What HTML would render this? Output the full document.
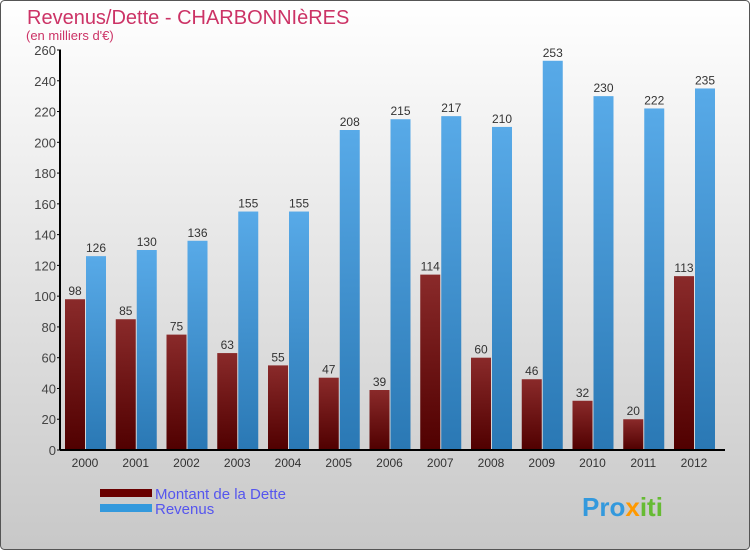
<!DOCTYPE html>
<html><head><meta charset="utf-8"><style>
body{margin:0;width:750px;height:550px;overflow:hidden;font-family:"Liberation Sans",sans-serif}
</style></head><body>
<svg id="c" width="750" height="550" xmlns="http://www.w3.org/2000/svg">
<defs>
<linearGradient id="bg" x1="0" y1="0" x2="0" y2="1"><stop offset="0" stop-color="#ffffff"/><stop offset="1" stop-color="#c8c8c8"/></linearGradient>
<linearGradient id="rg" x1="0" y1="0" x2="0" y2="1"><stop offset="0" stop-color="#8a2a2a"/><stop offset="1" stop-color="#500000"/></linearGradient>
<linearGradient id="bgr" x1="0" y1="0" x2="0" y2="1"><stop offset="0" stop-color="#58aae8"/><stop offset="1" stop-color="#2a78b4"/></linearGradient>
</defs>
<rect x="0.5" y="0.5" width="749" height="549" rx="4" fill="url(#bg)" stroke="#555"/>
<text x="27" y="24" font-size="20" fill="#cc3366">Revenus/Dette - CHARBONNIèRES</text>
<text x="26" y="40" font-size="13" fill="#cc3366">(en milliers d'€)</text>
<g id="plot"></g>
<rect x="100" y="489" width="52" height="8" fill="#6a0000"/>
<text x="155" y="499" font-size="15" fill="#5555ee">Montant de la Dette</text>
<rect x="100" y="504" width="52" height="8" fill="#3399dd"/>
<text x="155" y="514" font-size="15" fill="#5555ee">Revenus</text>
<text x="582" y="516" font-size="26" font-weight="bold" fill="#3399dd">Pro<tspan fill="#ff9900">x</tspan><tspan fill="#66bb33">iti</tspan></text>
</svg>
<script>
const years=["2000","2001","2002","2003","2004","2005","2006","2007","2008","2009","2010","2011","2012"];
const dette=[98,85,75,63,55,47,39,114,60,46,32,20,113];
const revenus=[126,130,136,155,155,208,215,217,210,253,230,222,235];
const ticks=[0,20,40,60,80,100,120,140,160,180,200,220,240,260];
const NS="http://www.w3.org/2000/svg";
const g=document.getElementById('plot');
const y0=450,yMax=260,ph=400,x0=65,step=50.75;
function y(v){return y0-v/yMax*ph;}
function mk(t,a,txt){const e=document.createElementNS(NS,t);for(const k in a)e.setAttribute(k,a[k]);if(txt!==undefined)e.textContent=txt;g.appendChild(e);return e;}
ticks.forEach(t=>{
  const l=mk('line',{x1:57,x2:61,y1:y(t),y2:y(t),stroke:'#000'});
  
  
  const tx=mk('text',{x:56,y:y(t)+5,'font-size':13,fill:'#444','text-anchor':'end'},String(t));
  
  
});
years.forEach((yr,i)=>{
  const gx=x0+i*step;
  const r=mk('rect',{x:gx,y:y(dette[i]),width:20,height:y0-y(dette[i]),fill:'url(#rg)'});
  
  
  const b=mk('rect',{x:gx+21,y:y(revenus[i]),width:20,height:y0-y(revenus[i]),fill:'url(#bgr)'});
  
  
  const t1=mk('text',{x:gx+10,y:y(dette[i])-4,'font-size':12,fill:'#333','text-anchor':'middle'},String(dette[i]));
  
  
  const t2=mk('text',{x:gx+31,y:y(revenus[i])-4,'font-size':12,fill:'#333','text-anchor':'middle'},String(revenus[i]));
  
  
  const xl=mk('text',{x:gx+20,y:467,'font-size':12,fill:'#333','text-anchor':'middle'},yr);
  
  
});
const ax=mk('line',{x1:60,x2:60,y1:y(260),y2:y0,stroke:'#000','stroke-width':2});


const bx=mk('line',{x1:60,x2:725,y1:y0,y2:y0,stroke:'#000','stroke-width':2});


</script>
</body></html>
